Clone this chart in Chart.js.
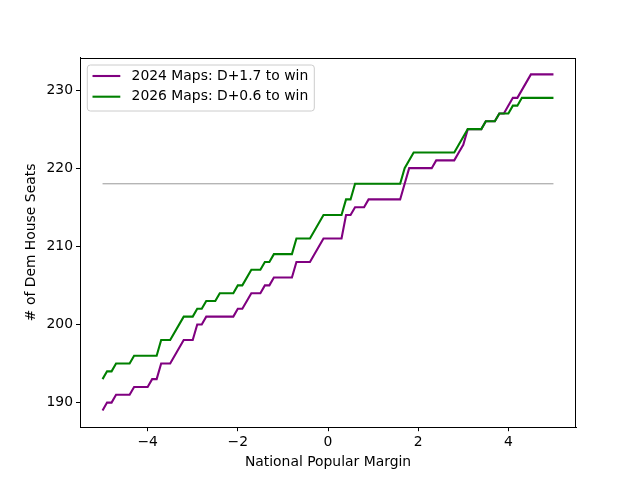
<!DOCTYPE html>
<html>
<head>
<meta charset="utf-8">
<script src="https://cdn.jsdelivr.net/npm/chart.js@4"></script>
<style>
  body { margin: 0; background: #fff; }
  canvas { display: block; }
</style>
</head>
<body>
<canvas id="seats_chart" width="640" height="480"></canvas>
<script>
// vertices of each step line
const maps2024X = [-5, -4.9, -4.8, -4.7, -4.4, -4.3, -4.0, -3.9, -3.8, -3.7, -3.5, -3.2, -3.0, -2.9, -2.8, -2.7, -2.1, -2.0, -1.9, -1.7, -1.5, -1.4, -1.3, -1.2, -0.8, -0.7, -0.4, -0.1, 0.3, 0.4, 0.5, 0.6, 0.8, 0.9, 1.6, 1.7, 1.8, 2.3, 2.4, 2.8, 2.9, 3.0, 3.1, 3.4, 3.5, 3.7, 3.8, 3.9, 4.1, 4.2, 4.5, 5];
const maps2024Y = [189, 190, 190, 191, 191, 192, 192, 193, 193, 195, 195, 198, 198, 200, 200, 201, 201, 202, 202, 204, 204, 205, 205, 206, 206, 208, 208, 211, 211, 214, 214, 215, 215, 216, 216, 218, 220, 220, 221, 221, 222, 223, 225, 225, 226, 226, 227, 227, 229, 229, 232, 232];

const maps2026X = [-5, -4.9, -4.8, -4.7, -4.4, -4.3, -3.8, -3.7, -3.5, -3.2, -3.0, -2.9, -2.8, -2.7, -2.5, -2.4, -2.1, -2.0, -1.9, -1.7, -1.5, -1.4, -1.3, -1.2, -0.8, -0.7, -0.4, -0.1, 0.3, 0.4, 0.5, 0.6, 1.6, 1.7, 1.9, 2.8, 3.1, 3.4, 3.5, 3.7, 3.8, 4.0, 4.1, 4.2, 4.3, 5];
const maps2026Y = [193, 194, 194, 195, 195, 196, 196, 198, 198, 201, 201, 202, 202, 203, 203, 204, 204, 205, 205, 207, 207, 208, 208, 209, 209, 211, 211, 214, 214, 216, 216, 218, 218, 220, 222, 222, 225, 225, 226, 226, 227, 227, 228, 228, 229, 229];

const majorityX = [-5, 5];
const majorityY = [218, 218];

const xTicks = [-4, -2, 0, 2, 4];
const yTicks = [190, 200, 210, 220, 230];

const toPoints = (xs, ys) => xs.map((x, i) => ({x: x, y: ys[i]}));
const fmt = v => (v < 0 ? '\u2212' + Math.abs(v) : String(v));

Chart.defaults.font.family = '"DejaVu Sans"';
Chart.defaults.font.size = 13.9;
Chart.defaults.color = '#000';

// matplotlib style frame (top and right spines too)
const frame = {
  id: 'frame',
  afterDatasetsDraw(chart) {
    const {ctx, chartArea: a} = chart;
    ctx.save();
    ctx.strokeStyle = '#000';
    ctx.lineWidth = 1;
    ctx.strokeRect(Math.round(a.left) + 0.5, Math.round(a.top) + 0.5,
      Math.round(a.right - a.left) - 1, Math.round(a.bottom - a.top) - 1);
    ctx.restore();
  }
};

// legend box in the upper left corner
const legendBox = {
  id: 'legendBox',
  afterDraw(chart) {
    const {ctx, chartArea: a} = chart;
    const items = chart.data.datasets.filter(d => d.label);
    const x = a.left + 7.3, y = a.top + 7.4, w = 227, h = 46;
    ctx.save();
    ctx.beginPath();
    ctx.roundRect(x, y, w, h, 3);
    ctx.fillStyle = 'rgba(255,255,255,0.8)';
    ctx.fill();
    ctx.strokeStyle = '#cccccc';
    ctx.lineWidth = 1;
    ctx.stroke();
    ctx.font = '13.9px "DejaVu Sans"';
    ctx.textBaseline = 'middle';
    items.forEach((d, i) => {
      const cy = y + 11 + i * 20.7;
      ctx.strokeStyle = d.borderColor;
      ctx.lineWidth = d.borderWidth;
      ctx.beginPath();
      ctx.moveTo(x + 5.2, cy);
      ctx.lineTo(x + 33, cy);
      ctx.stroke();
      ctx.fillStyle = '#000';
      ctx.fillText(d.label, x + 44.3, cy);
    });
    ctx.restore();
  }
};

const ctx = document.getElementById('seats_chart').getContext('2d');

new Chart(ctx, {
  type: 'line',
  data: {
    datasets: [{
      label: '2024 Maps: D+1.7 to win',
      data: toPoints(maps2024X, maps2024Y),
      borderColor: '#800080',
      borderWidth: 2.1,
      order: 2
    }, {
      label: '2026 Maps: D+0.6 to win',
      data: toPoints(maps2026X, maps2026Y),
      borderColor: '#008000',
      borderWidth: 2.1,
      order: 1
    }, {
      label: '',
      data: toPoints(majorityX, majorityY),
      borderColor: '#999999',
      borderWidth: 1,
      order: 3
    }]
  },
  options: {
    responsive: false,
    animation: false,
    devicePixelRatio: 1,
    layout: {
      padding: {left: 0, top: 57.6, right: 64, bottom: 0}
    },
    elements: {
      point: {radius: 0},
      line: {tension: 0, fill: false}
    },
    plugins: {
      legend: {display: false},
      tooltip: {enabled: false}
    },
    scales: {
      x: {
        type: 'linear',
        min: -5.5,
        max: 5.5,
        afterBuildTicks: s => { s.ticks = xTicks.map(v => ({value: v})); },
        afterFit: s => { s.height = 52.8; },
        ticks: {
          callback: v => fmt(v),
          padding: 3,
          maxRotation: 0,
          includeBounds: false
        },
        grid: {
          drawOnChartArea: false,
          tickLength: 4,
          tickColor: '#000',
          tickWidth: 1
        },
        border: {color: '#000', width: 1},
        title: {
          display: true,
          text: 'National Popular Margin',
          padding: {bottom: 9.7}
        }
      },
      y: {
        min: 186.85,
        max: 234.15,
        afterBuildTicks: s => { s.ticks = yTicks.map(v => ({value: v})); },
        afterFit: s => { s.width = 80; },
        ticks: {
          callback: v => fmt(v),
          padding: 3,
          includeBounds: false
        },
        grid: {
          drawOnChartArea: false,
          tickLength: 4,
          tickColor: '#000',
          tickWidth: 1
        },
        border: {color: '#000', width: 1},
        title: {
          display: true,
          text: '# of Dem House Seats',
          padding: {top: 22.7}
        }
      }
    }
  },
  plugins: [frame, legendBox]
});
</script>
</body>
</html>
